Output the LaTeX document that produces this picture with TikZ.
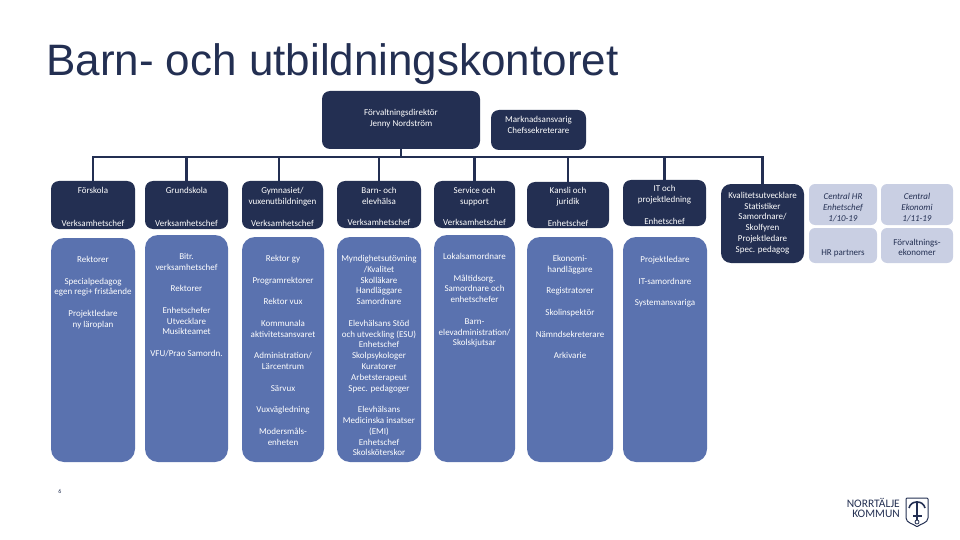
\documentclass[tikz,border=0pt]{standalone}
\usepackage{fontspec}
\setmainfont{Carlito}
\newfontfamily\titlefont{Liberation Sans}
\usetikzlibrary{positioning}
\definecolor{navy}{HTML}{232F52}
\definecolor{midblue}{HTML}{5A72AF}
\definecolor{paleblue}{HTML}{C9CFE3}
\newcommand{\lifttext}[1]{\rule{0pt}{#1pt}}

\begin{document}
\begin{tikzpicture}[
    x=1pt, y=-1pt,
    font=\fontsize{9}{10.8}\selectfont,
    title/.style={anchor=base west, inner sep=0pt, text=navy, font=\titlefont\fontsize{44}{48}\selectfont},
    boss/.style={rectangle, fill=navy, text=white, rounded corners=8pt, align=center, inner sep=0pt},
    head/.style={rectangle, fill=navy, text=white, rounded corners=8pt, align=center, inner sep=0pt},
    column/.style={rectangle, fill=midblue, rounded corners=13pt, inner sep=0pt},
    coltext/.style={anchor=north, text=white, align=center, inner sep=0pt},
    central/.style={rectangle, fill=paleblue, text=navy, rounded corners=6pt, align=center, inner sep=0pt},
    edge_style/.style={draw=navy, line width=2.5pt}
]
\useasboundingbox (0,0) rectangle (960,540);

% Title
\node[title] (title) at (46,76) {Barn- och utbildningskontoret};

% Level 0: Director
\node[boss, minimum width=158, minimum height=58] (dir) at (401,120) {Förvaltningsdirektör\\Jenny Nordström\\[-6pt]};
\node[boss, minimum width=95, minimum height=40] (mark) at (538.5,130) {Marknadsansvarig\\Chefssekreterare\\[0pt]};

% Level 1: Heads
\node[head, minimum width=84, minimum height=48] (fsk) at (93,205) {\lifttext{10}Förskola\\[21.6pt]Verksamhetschef};
\node[head, minimum width=83, minimum height=48] (gsk) at (186.5,205) {\lifttext{10}Grundskola\\[21.6pt]Verksamhetschef};
\node[head, minimum width=81, minimum height=48] (gym) at (282.5,205) {\lifttext{10}Gymnasiet/\\vuxenutbildningen\\[10.8pt]Verksamhetschef};
\node[head, minimum width=84, minimum height=47] (elev) at (379,204.5) {\lifttext{10}Barn- och\\elevhälsa\\[10.8pt]Verksamhetschef};
\node[head, minimum width=81, minimum height=47] (serv) at (474.5,204.5) {\lifttext{10}Service och\\support\\[10.8pt]Verksamhetschef};
\node[head, minimum width=82, minimum height=46] (kans) at (568,205) {\lifttext{10}Kansli och\\juridik\\[10.8pt]Enhetschef};
\node[head, minimum width=83, minimum height=46] (itp) at (664.5,203) {\lifttext{10}IT och\\projektledning\\[10.8pt]Enhetschef};
\node[head, rounded corners=10pt, minimum width=83, minimum height=79] (kval) at (762.5,223.5) {Kvalitetsutvecklare\\Statistiker\\Samordnare/\\Skolfyren\\Projektledare\\Spec. pedagog\\[-8pt]};

% Level 2: Columns
\node[column, minimum width=84, minimum height=224] (cfsk) at (93,350) {};
\node[column, minimum width=83, minimum height=227] (cgsk) at (186.5,348.5) {};
\node[column, minimum width=82, minimum height=225] (cgym) at (283,349.5) {};
\node[column, minimum width=84, minimum height=225] (celev) at (379,349.5) {};
\node[column, minimum width=81, minimum height=227] (cserv) at (474.5,348.5) {};
\node[column, minimum width=86, minimum height=225] (ckans) at (570,349.5) {};
\node[column, minimum width=84, minimum height=225] (citp) at (665,349.5) {};

% Column texts
\node[coltext] (tfsk) at (93,256) {Rektorer\\[10.8pt]Specialpedagog\\egen regi+ fristående\\[10.8pt]Projektledare\\ny läroplan};
\node[coltext] (tgsk) at (186.5,253) {Bitr.\\verksamhetschef\\[10.8pt]Rektorer\\[10.8pt]Enhetschefer\\Utvecklare\\Musikteamet\\[10.8pt]VFU/Prao Samordn.};
\node[coltext] (tgym) at (283,255) {Rektor gy\\[10.8pt]Programrektorer\\[10.8pt]Rektor vux\\[10.8pt]Kommunala\\aktivitetsansvaret\\[10.8pt]Administration/\\Lärcentrum\\[10.8pt]Särvux\\[10.8pt]Vuxvägledning\\[10.8pt]Modersmåls-\\enheten};
\node[coltext] (telev) at (379,255) {Myndighetsutövning\\/Kvalitet\\Skolläkare\\Handläggare\\Samordnare\\[10.8pt]Elevhälsans Stöd\\och utveckling (ESU)\\Enhetschef\\Skolpsykologer\\Kuratorer\\Arbetsterapeut\\Spec. pedagoger\\[10.8pt]Elevhälsans\\Medicinska insatser\\(EMI)\\Enhetschef\\Skolsköterskor};
\node[coltext] (tserv) at (474.5,253) {Lokalsamordnare\\[10.8pt]Måltidsorg.\\Samordnare och\\enhetschefer\\[10.8pt]Barn-\\elevadministration/\\Skolskjutsar};
\node[coltext] (tkans) at (570,255) {Ekonomi-\\handläggare\\[10.8pt]Registratorer\\[10.8pt]Skolinspektör\\[10.8pt]Nämndsekreterare\\[10.8pt]Arkivarie};
\node[coltext] (titp) at (665,256) {Projektledare\\[10.8pt]IT-samordnare\\[10.8pt]Systemansvariga};

% Staff boxes
\node[central, minimum width=68, minimum height=41, font=\fontsize{9}{10.8}\selectfont\itshape] (chr) at (843,204.5) {\lifttext{12}Central HR\\Enhetschef\\1/10-19};
\node[central, minimum width=72, minimum height=41, font=\fontsize{9}{10.8}\selectfont\itshape] (ceko) at (917,204.5) {\lifttext{12}Central\\Ekonomi\\1/11-19};
\node[central, minimum width=68, minimum height=35] (hrp) at (843,245.5) {\lifttext{10}\\HR partners};
\node[central, minimum width=72, minimum height=35] (feko) at (917,245.5) {\lifttext{10}Förvaltnings-\\ekonomer};

% Connections
\coordinate (bus) at (401,157);
\draw[edge_style] (dir.south) -- (bus);
\draw[edge_style] (fsk.north) |- (bus);
\draw[edge_style] (gsk.north) |- (bus);
\draw[edge_style] ([xshift=-3.5pt]gym.north) |- (bus);
\draw[edge_style] (elev.north) |- (bus);
\draw[edge_style] (serv.north) |- (bus);
\draw[edge_style] (kans.north) |- (bus);
\draw[edge_style] (itp.north) |- (bus);
\draw[edge_style] (kval.north) |- (bus);

% Page number
\node[inner sep=0pt, text=navy, font=\fontsize{6}{7}\selectfont] (page) at (60,491) {6};

% Logo
\node[anchor=north east, inner sep=0pt, align=right, text=navy, font=\fontsize{11.5}{10.5}\selectfont] (logo) at (900,498) {NORRTÄLJE\\KOMMUN};
\draw[navy, line width=1pt, rounded corners=1pt] (906,498) -- (928,498) -- (928,517) .. controls (928,523) and (920,524) .. (917,527) .. controls (914,524) and (906,523) .. (906,517) -- cycle;
\draw[navy, line width=2pt] (917,501) -- (917,520);
\draw[navy, line width=1.8pt] (913,516) -- (922,516);
\draw[navy, line width=1.6pt] (909,508) .. controls (910,504) and (913,502) .. (917,502) .. controls (921,502) and (924,504) .. (925,508);
\draw[navy, line width=0.8pt] (917,522) circle (2pt);
\end{tikzpicture}
\end{document}
